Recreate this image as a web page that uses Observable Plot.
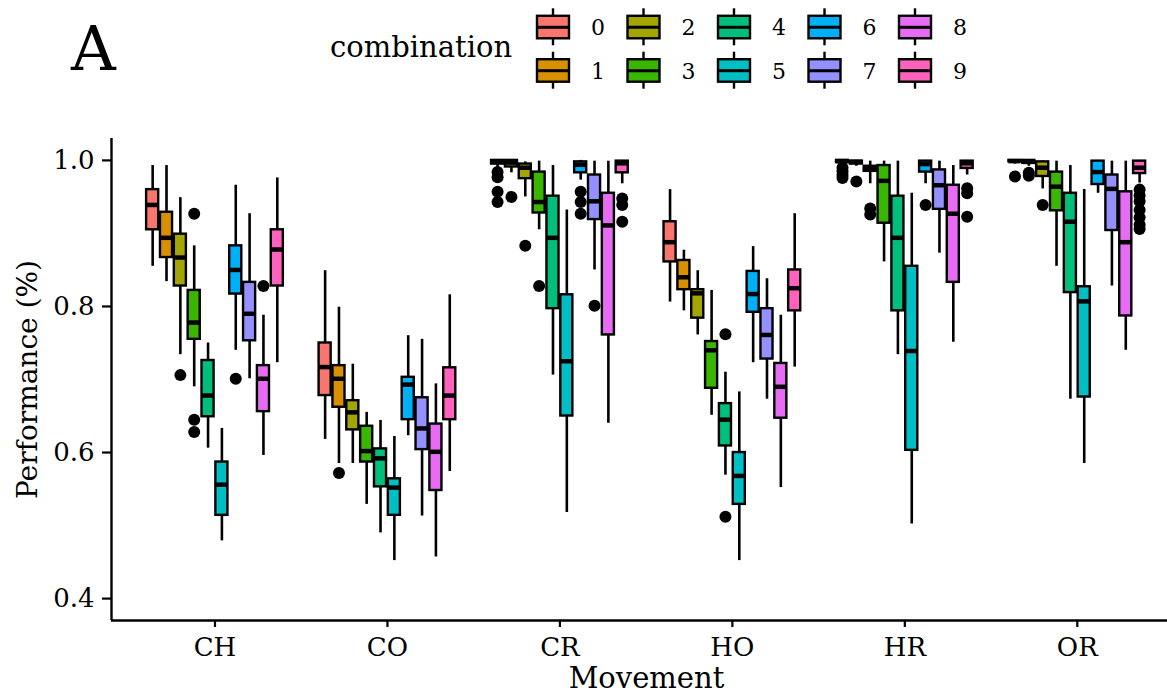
<!DOCTYPE html>
<html><head><meta charset="utf-8">
<script src="https://cdn.jsdelivr.net/npm/d3@7"></script>
<script src="https://cdn.jsdelivr.net/npm/@observablehq/plot@0.6"></script>
<style>
body{margin:0;background:#fff;font-family:"DejaVu Serif",serif;}
#wrap{position:relative;width:1167px;height:695px;overflow:hidden;background:#fff}
#header{display:block}
</style></head><body>
<div id="wrap"><svg id="header" width="1167" height="120"></svg><div id="chart"></div></div>
<script>
const movements = ["CH","CO","CR","HO","HR","OR"];
const combinations = ["0","1","2","3","4","5","6","7","8","9"];
const palette = ["#F8766D","#D89000","#A3A500","#39B600","#00BF7D","#00BFC4","#00B0F6","#9590FF","#E76BF3","#FF62BC"];
const yTicks = [0.4, 0.6, 0.8, 1.0];
const titleTag = "A";
const legendTitle = "combination";
const xTitle = "Movement";
const yTitle = "Performance (%)";

// per combination: [lower whisker, q1, median, q3, upper whisker]
const CH = [
  [0.855,0.905,0.939,0.960,0.993],[0.834,0.867,0.894,0.929,0.993],[0.734,0.828,0.867,0.899,0.949],
  [0.690,0.755,0.778,0.822,0.883],[0.606,0.649,0.678,0.726,0.750],[0.479,0.514,0.556,0.587,0.633],
  [0.740,0.817,0.850,0.883,0.966],[0.701,0.753,0.790,0.833,0.927],[0.596,0.656,0.701,0.719,0.788],
  [0.723,0.828,0.878,0.905,0.976]];
const CO = [
  [0.618,0.678,0.717,0.750,0.849],[0.585,0.662,0.701,0.719,0.799],[0.585,0.631,0.655,0.671,0.721],
  [0.529,0.587,0.602,0.636,0.655],[0.490,0.553,0.592,0.605,0.644],[0.452,0.514,0.552,0.564,0.622],
  [0.623,0.645,0.693,0.703,0.760],[0.513,0.604,0.633,0.675,0.755],[0.457,0.548,0.601,0.639,0.694],
  [0.574,0.645,0.678,0.716,0.816]];
const CR = [
  [0.990,0.995,0.998,1.000,1.000],[0.983,0.991,0.997,1.000,1.000],[0.950,0.975,0.990,0.995,0.998],
  [0.905,0.928,0.943,0.984,0.999],[0.706,0.797,0.894,0.951,0.993],[0.518,0.650,0.725,0.816,0.932],
  [0.973,0.983,0.994,0.998,1.000],[0.850,0.919,0.944,0.980,0.999],[0.640,0.761,0.911,0.955,0.999],
  [0.968,0.983,0.996,0.999,1.000]];
const HO = [
  [0.806,0.861,0.888,0.916,0.960],[0.794,0.823,0.840,0.863,0.877],[0.761,0.784,0.818,0.823,0.849],
  [0.651,0.688,0.740,0.752,0.822],[0.569,0.609,0.645,0.667,0.710],[0.452,0.529,0.568,0.600,0.683],
  [0.723,0.792,0.817,0.848,0.882],[0.673,0.728,0.761,0.797,0.838],[0.552,0.647,0.690,0.722,0.788],
  [0.717,0.794,0.825,0.850,0.927]];
const HR = [
  [0.995,0.997,0.999,1.000,1.000],[0.992,0.995,0.998,0.999,1.000],[0.968,0.985,0.988,0.992,0.999],
  [0.861,0.914,0.972,0.993,0.999],[0.734,0.794,0.894,0.951,0.999],[0.502,0.603,0.739,0.855,0.955],
  [0.968,0.984,0.995,0.999,1.000],[0.873,0.933,0.966,0.987,0.999],[0.751,0.833,0.927,0.966,0.993],
  [0.980,0.989,0.996,0.999,1.000]];
const OR = [
  [0.995,0.998,0.999,1.000,1.000],[0.992,0.996,0.998,1.000,1.000],[0.961,0.978,0.990,0.998,0.999],
  [0.855,0.931,0.964,0.984,0.999],[0.673,0.819,0.916,0.955,0.993],[0.585,0.676,0.807,0.827,0.960],
  [0.955,0.967,0.984,0.999,1.000],[0.828,0.904,0.961,0.980,0.999],[0.740,0.787,0.888,0.957,0.999],
  [0.969,0.982,0.990,0.999,1.000]];

// outliers per combination
const CH_out = [[],[],[0.706],[0.927,0.645,0.628],[],[],[0.701],[],[0.828],[]];
const CO_out = [[],[0.572],[],[],[],[],[],[],[],[]];
const CR_out = [[0.984,0.977,0.957,0.943],[0.950],[0.883],[0.828],[],[],[0.957,0.943,0.927],[0.801],[],[0.948,0.939,0.916]];
const HO_out = [[],[],[],[],[0.762,0.512],[],[],[],[],[]];
const HR_out = [[0.990,0.985,0.980,0.976],[0.971],[0.934,0.926],[],[],[],[0.939],[],[],[0.962,0.955,0.923]];
const OR_out = [[0.978],[0.979,0.983],[0.939],[],[],[],[],[],[],[0.960,0.952,0.944,0.932,0.922,0.912,0.906]];

const statsBy = {CH, CO, CR, HO, HR, OR};
const outBy = {CH: CH_out, CO: CO_out, CR: CR_out, HO: HO_out, HR: HR_out, OR: OR_out};

const boxes = [];
const outliers = [];
movements.forEach(m => {
  statsBy[m].forEach((s, i) => {
    boxes.push({movement: m, combination: combinations[i], lo: s[0], q1: s[1], med: s[2], q3: s[3], hi: s[4]});
  });
  outBy[m].forEach((arr, i) => arr.forEach(v => outliers.push({movement: m, combination: combinations[i], v})));
});

const step = 0.0803;   // dodge step between combinations
const hw = 0.035;      // half box width
const pos = d => movements.indexOf(d.movement) + 1 + (combinations.indexOf(d.combination) - 4.5) * step;

const font = "DejaVu Serif";

const chart = Plot.plot({
  width: 1167,
  height: 575,
  marginTop: 18,
  marginBottom: 75,
  marginLeft: 111,
  marginRight: 0,
  style: {fontFamily: font, background: "#fff", color: "#000"},
  x: {type: "linear", domain: [0.4, 6.523]},
  y: {domain: [0.37, 1.03]},
  color: {domain: combinations, range: palette},
  marks: [
    Plot.axisY({ticks: yTicks, tickFormat: d3.format(".1f"), tickSize: 9, tickPadding: 8, fontSize: 26, strokeWidth: 2.2, label: null, stroke: "#000", fill: "#000"}),
    Plot.axisX({ticks: [1,2,3,4,5,6], tickFormat: i => movements[i - 1], tickSize: 7, tickPadding: 10, fontSize: 26, strokeWidth: 2.2, label: null, stroke: "#000", fill: "#000"}),
    Plot.ruleX(boxes, {x: pos, y1: "lo", y2: "hi", stroke: "#000", strokeWidth: 2.6}),
    Plot.rect(boxes, {x1: d => pos(d) - hw, x2: d => pos(d) + hw, y1: "q1", y2: "q3", fill: "combination", stroke: "#000", strokeWidth: 2.4}),
    Plot.ruleY(boxes, {y: "med", x1: d => pos(d) - hw, x2: d => pos(d) + hw, stroke: "#000", strokeWidth: 4.5}),
    Plot.dot(outliers, {x: pos, y: "v", r: 6, fill: "#000", stroke: null}),
    Plot.ruleX([0.4], {stroke: "#000", strokeWidth: 2.4}),
    Plot.ruleY([0.37], {stroke: "#000", strokeWidth: 2.4}),
    Plot.text([xTitle], {frameAnchor: "bottom", dx: 7, dy: 67, fontSize: 29, fill: "#000"}),
    Plot.text([yTitle], {frameAnchor: "left", textAnchor: "middle", rotate: -90, dx: -83, fontSize: 28, fill: "#000"})
  ]
});
document.getElementById("chart").appendChild(chart);

// header: tag + legend
const ns = "http://www.w3.org/2000/svg";
const hdr = document.getElementById("header");
function el(tag, attrs, text) {
  const e = document.createElementNS(ns, tag);
  for (const k in attrs) e.setAttribute(k, attrs[k]);
  if (text != null) e.textContent = text;
  hdr.appendChild(e);
  return e;
}
el("text", {x: 71, y: 70, "font-family": font, "font-size": 62, fill: "#000"}, titleTag);
el("text", {x: 330, y: 57, "font-family": font, "font-size": 29, fill: "#000"}, legendTitle);
combinations.forEach((c, i) => {
  const col = Math.floor(i / 2), row = i % 2;
  const cx = 553 + col * 90.5, cy = 27.3 + row * 43.4;
  el("line", {x1: cx, x2: cx, y1: cy - 19, y2: cy + 18, stroke: "#000", "stroke-width": 2.4});
  el("rect", {x: cx - 16, y: cy - 11.5, width: 32, height: 22.5, fill: palette[i], stroke: "#000", "stroke-width": 2.4});
  el("line", {x1: cx - 16, x2: cx + 16, y1: cy, y2: cy, stroke: "#000", "stroke-width": 3});
  el("text", {x: cx + 38, y: cy + 8, "font-family": font, "font-size": 22, fill: "#000"}, c);
});
</script>
</body></html>
